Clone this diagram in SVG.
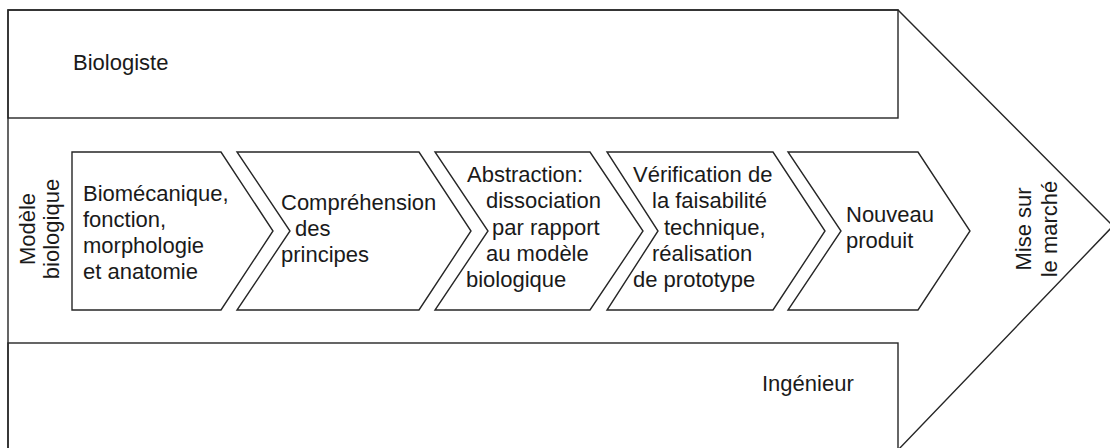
<svg xmlns="http://www.w3.org/2000/svg" width="1110" height="448" viewBox="0 0 1110 448">
  <style>
    .shape { fill: #ffffff; stroke: #262626; stroke-width: 1.4; stroke-linejoin: miter; }
    .band { fill: none; stroke: #262626; stroke-width: 1.4; }
    text { font-family: "Liberation Sans", Arial, sans-serif; font-size: 22px; fill: #1a1a1a; }
    .mid { text-anchor: middle; }
  </style>
  <rect x="0" y="0" width="1110" height="448" fill="#ffffff"/>

  <!-- large process arrow (bottom edge runs just past the canvas) -->
  <g id="process-arrow">
    <polygon class="shape" points="8,10 898,10 1113,226 898,450 8,450"/>
    <text class="mid" transform="translate(1031,229) rotate(-90)">Mise sur</text>
    <text class="mid" transform="translate(1057,229) rotate(-90)">le marché</text>
  </g>

  <!-- upper band -->
  <g id="lane-biologiste">
    <rect class="band" x="8" y="10" width="890" height="108"/>
    <text x="73" y="70">Biologiste</text>
  </g>

  <!-- lower band -->
  <g id="lane-ingenieur">
    <rect class="band" x="8" y="343" width="890" height="107"/>
    <text x="762" y="391">Ingénieur</text>
  </g>

  <!-- side label -->
  <g id="modele-biologique">
    <text class="mid" transform="translate(35,229) rotate(-90)">Modèle</text>
    <text class="mid" transform="translate(59,229) rotate(-90)">biologique</text>
  </g>

  <!-- step chevrons -->
  <g id="step-1">
    <polygon class="shape" points="72,152 221,152 273,231 221,310 72,310"/>
    <text x="83" y="201">Biomécanique,</text>
    <text x="83" y="227">fonction,</text>
    <text x="83" y="253">morphologie</text>
    <text x="83" y="279">et anatomie</text>
  </g>

  <g id="step-2">
    <polygon class="shape" points="237,152 419,152 471,231 419,310 237,310 290,231"/>
    <text x="281" y="210">Compréhension</text>
    <text x="295" y="236">des</text>
    <text x="281" y="262">principes</text>
  </g>

  <g id="step-3">
    <polygon class="shape" points="435,152 590,152 643,231 590,310 435,310 488,231"/>
    <text x="467" y="182">Abstraction:</text>
    <text x="486" y="208">dissociation</text>
    <text x="492" y="235">par rapport</text>
    <text x="486" y="261">au modèle</text>
    <text x="466" y="287">biologique</text>
  </g>

  <g id="step-4">
    <polygon class="shape" points="607,152 773,152 825,231 773,310 607,310 658,231"/>
    <text x="633" y="182">Vérification de</text>
    <text x="652" y="208">la faisabilité</text>
    <text x="664" y="235">technique,</text>
    <text x="652" y="261">réalisation</text>
    <text x="633" y="287">de prototype</text>
  </g>

  <g id="step-5">
    <polygon class="shape" points="788,152 918,152 970,231 918,310 788,310 841,231"/>
    <text x="846" y="222">Nouveau</text>
    <text x="846" y="248">produit</text>
  </g>

  <!-- no connectors: steps abut one another -->
  <g id="connectors"/>
</svg>
